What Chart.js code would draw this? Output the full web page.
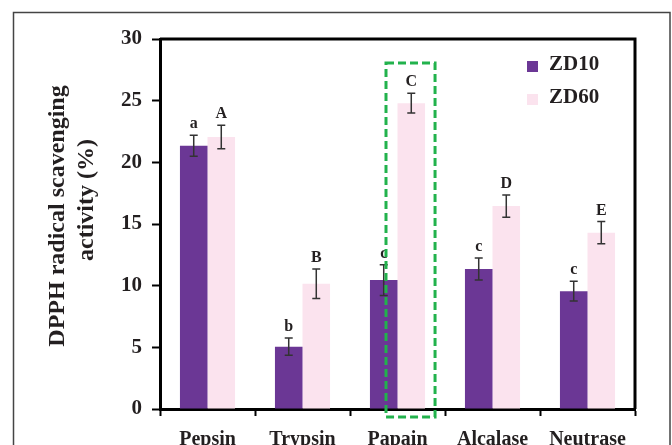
<!DOCTYPE html>
<html>
<head>
<meta charset="utf-8">
<script src="https://cdn.jsdelivr.net/npm/chart.js@4"></script>
<style>
  body { margin: 0; background: #fff; }
  canvas { display: block; }
</style>
</head>
<body>
<canvas id="chart" width="672" height="445"></canvas>
<script>
// data
const categories = ['Pepsin', 'Trypsin', 'Papain', 'Alcalase', 'Neutrase'];
const zd10 = [21.35, 5.05, 10.45, 11.35, 9.55];
const zd60 = [22.05, 10.15, 24.8, 16.45, 14.3];
const zd10Err = [0.85, 0.7, 1.25, 0.9, 0.8];
const zd60Err = [0.95, 1.2, 0.8, 0.9, 0.9];
const zd10Letters = ['a', 'b', 'c', 'c', 'c'];
const zd60Letters = ['A', 'B', 'C', 'D', 'E'];
const yTicks = [0, 5, 10, 15, 20, 25, 30];

const SERIF = '"Liberation Serif", "Times New Roman", serif';
const TEXT = '#231f20';
const PURPLE = '#6b3795';
const PINK = '#fbe3ee';

// error bars, letters, box, legend
const extras = {
  id: 'extras',
  beforeDraw(chart) {
    const c = chart.ctx;
    c.save();
    c.fillStyle = '#fff';
    c.fillRect(0, 0, chart.width, chart.height);
    c.strokeStyle = '#444';
    c.lineWidth = 1.5;
    c.strokeRect(13.5, 12.5, 656.5, 445);
    c.restore();
  },
  afterDraw(chart) {
    const c = chart.ctx;
    const area = chart.chartArea;
    const y = chart.scales.y;
    c.save();

    // top and right frame of the plot
    c.strokeStyle = '#000';
    c.lineWidth = 3;
    c.beginPath();
    c.moveTo(area.left, area.top);
    c.lineTo(area.right, area.top);
    c.lineTo(area.right, area.bottom);
    c.stroke();

    const errs = [zd10Err, zd60Err];
    const letters = [zd10Letters, zd60Letters];
    chart.data.datasets.forEach((ds, di) => {
      chart.getDatasetMeta(di).data.forEach((bar, i) => {
        const v = ds.data[i];
        const e = errs[di][i];
        const yt = y.getPixelForValue(v + e);
        const yb = y.getPixelForValue(v - e);
        c.strokeStyle = '#333';
        c.lineWidth = 1.5;
        c.beginPath();
        c.moveTo(bar.x, yt); c.lineTo(bar.x, yb);
        c.moveTo(bar.x - 4, yt); c.lineTo(bar.x + 4, yt);
        c.moveTo(bar.x - 4, yb); c.lineTo(bar.x + 4, yb);
        c.stroke();

        c.fillStyle = TEXT;
        c.font = 'bold 16px ' + SERIF;
        c.textAlign = 'center';
        c.textBaseline = 'alphabetic';
        c.fillText(letters[di][i], bar.x, yt - 7);
      });
    });

    // dashed highlight around Papain ZD60
    const pb = chart.getDatasetMeta(1).data[2];
    const left = pb.x - pb.width / 2 - 11.5;
    const right = pb.x + pb.width / 2 + 10;
    const top = y.getPixelForValue(28.05);
    const bottom = area.bottom + 8;
    c.strokeStyle = '#22b24c';
    c.lineWidth = 3;
    c.setLineDash([8, 4]);
    c.strokeRect(left, top, right - left, bottom - top);
    c.setLineDash([]);

    // legend
    const lx = area.right - 108;
    const items = [['ZD10', PURPLE, 61], ['ZD60', PINK, 94]];
    c.font = 'bold 21px ' + SERIF;
    c.textAlign = 'left';
    c.textBaseline = 'alphabetic';
    items.forEach(([name, col, ty]) => {
      c.fillStyle = col;
      c.fillRect(lx, ty, 11, 11);
      c.fillStyle = TEXT;
      c.fillText(name, lx + 22, ty + 9);
    });

    // y axis title, two lines
    c.font = 'bold 24px ' + SERIF;
    c.textAlign = 'center';
    c.textBaseline = 'middle';
    c.fillStyle = TEXT;
    [['DPPH radical scavenging', 58, 216], ['activity (%)', 87, 200]].forEach(([t, tx, ty]) => {
      c.save();
      c.translate(tx, ty);
      c.rotate(-Math.PI / 2);
      c.fillText(t, 0, 0);
      c.restore();
    });

    c.restore();
  }
};

new Chart(document.getElementById('chart'), {
  type: 'bar',
  data: {
    labels: categories,
    datasets: [
      { label: 'ZD10', data: zd10, backgroundColor: PURPLE, categoryPercentage: 0.58, barPercentage: 1.0 },
      { label: 'ZD60', data: zd60, backgroundColor: PINK, categoryPercentage: 0.58, barPercentage: 1.0 }
    ]
  },
  options: {
    responsive: false,
    animation: false,
    layout: { padding: { left: 0, top: 39, right: 37, bottom: 0 } },
    plugins: { legend: { display: false }, tooltip: { enabled: false } },
    scales: {
      x: {
        afterFit: s => { s.height = 36; },
        border: { display: true, color: '#000', width: 3 },
        grid: { offset: true, drawOnChartArea: false, drawTicks: true, tickLength: 7, tickWidth: 2, tickColor: '#000' },
        ticks: { color: TEXT, font: { family: SERIF, size: 20, weight: 'bold' }, padding: 12, maxRotation: 0 }
      },
      y: {
        min: 0,
        max: 30,
        afterFit: s => { s.width = 160; },
        afterBuildTicks: s => { s.ticks = yTicks.map(v => ({ value: v })); },
        border: { display: true, color: '#000', width: 3 },
        grid: { drawOnChartArea: false, drawTicks: true, tickLength: 8, tickWidth: 2, tickColor: '#000' },
        ticks: { color: TEXT, font: { family: SERIF, size: 21, weight: 'bold' }, padding: 10 }
      }
    }
  },
  plugins: [extras]
});
</script>
</body>
</html>
